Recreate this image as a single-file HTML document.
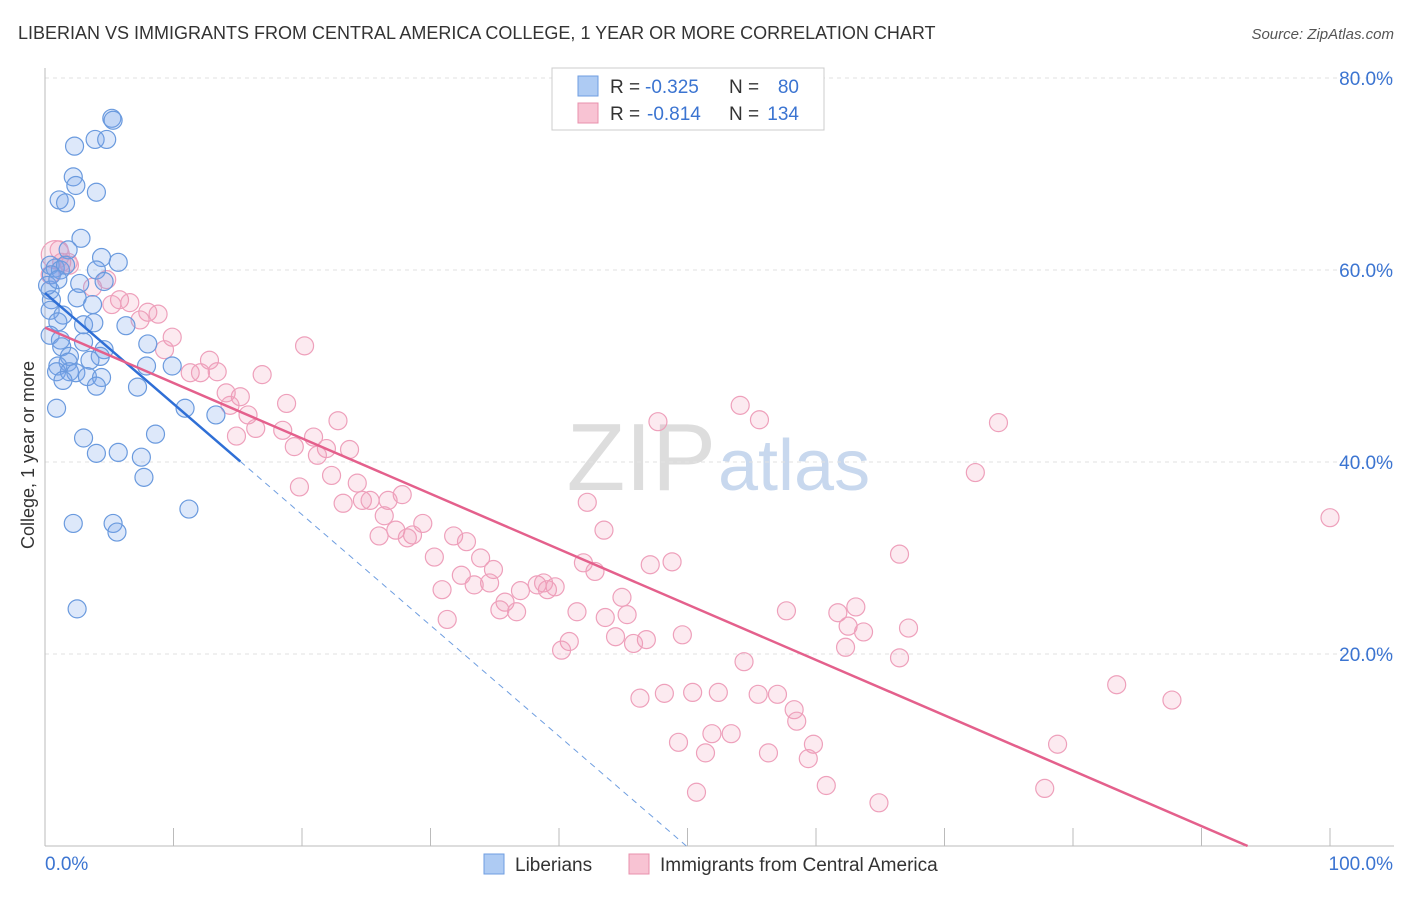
<!DOCTYPE html>
<html><head><meta charset="utf-8"><style>
body{margin:0;background:#fff;font-family:"Liberation Sans",sans-serif;}
svg text{font-family:"Liberation Sans",sans-serif;}
</style></head><body>
<svg id="chart" width="1406" height="892" viewBox="0 0 1406 892">
<text x="18" y="39" font-size="18" fill="#333">LIBERIAN VS IMMIGRANTS FROM CENTRAL AMERICA COLLEGE, 1 YEAR OR MORE CORRELATION CHART</text>
<text x="1394" y="39" font-size="15" fill="#555" text-anchor="end" font-style="italic">Source: ZipAtlas.com</text>
<text x="716" y="490" font-size="96" fill="#ddd" text-anchor="end" font-family="Liberation Serif">ZIP</text>
<text x="718" y="490" font-size="72" fill="#c8d8ee">atlas</text>
<g id="grid"></g><g id="axes"></g><g id="pts"></g><g id="lines"></g>
<text transform="translate(34,455) rotate(-90)" font-size="18" fill="#333" text-anchor="middle">College, 1 year or more</text>
<g>
<rect x="552" y="68" width="272" height="62" fill="#fff" stroke="#ccc"/>
<rect x="578" y="76" width="20" height="20" fill="#aecbf3" stroke="#6f9ee0"/>
<rect x="578" y="103" width="20" height="20" fill="#f8c3d3" stroke="#e890ad"/>
<text x="610" y="93" font-size="19" fill="#333">R =</text>
<text x="645" y="93" font-size="19" fill="#3b74d1">-0.325</text>
<text x="729" y="93" font-size="19" fill="#333">N =</text>
<text x="799" y="93" font-size="19" fill="#3b74d1" text-anchor="end">80</text>
<text x="610" y="120" font-size="19" fill="#333">R =</text>
<text x="647" y="120" font-size="19" fill="#3b74d1">-0.814</text>
<text x="729" y="120" font-size="19" fill="#333">N =</text>
<text x="799" y="120" font-size="19" fill="#3b74d1" text-anchor="end">134</text>
</g>
<g>
<rect x="484" y="854" width="20" height="20" fill="#aecbf3" stroke="#6f9ee0"/>
<text x="515" y="871" font-size="19" fill="#333">Liberians</text>
<rect x="629" y="854" width="20" height="20" fill="#f8c3d3" stroke="#e890ad"/>
<text x="660" y="871" font-size="19" fill="#333">Immigrants from Central America</text>
</g>
</svg>
<script>
const yTicks=[20,40,60,80];
const yTickLabels=["20.0%","40.0%","60.0%","80.0%"];
const xEndLabels=["0.0%","100.0%"];
const blueX=[5.2,5.3,3.9,4.8,2.3,2.2,2.4,4.0,1.1,1.6,2.8,1.8,5.7,4.4,0.4,0.8,1.2,1.6,4.0,4.6,2.7,0.4,0.5,2.5,3.7,0.4,1.4,1.0,3.0,3.8,6.3,0.4,1.2,1.3,3.0,4.6,8.0,1.9,4.3,1.8,1.0,3.5,0.9,1.9,2.4,3.3,4.4,1.4,4.0,7.2,7.9,9.9,0.9,10.9,13.3,8.6,3.0,4.0,5.7,7.5,7.7,2.2,5.3,5.6,11.2,2.5,0.5,0.2,1.0];
const blueY=[75.8,75.6,73.6,73.6,72.9,69.7,68.8,68.1,67.3,67.0,63.3,62.1,60.8,61.3,60.5,60.2,60.0,60.5,60.0,58.8,58.6,57.9,56.9,57.1,56.4,55.8,55.3,54.6,54.3,54.5,54.2,53.2,52.7,52.0,52.5,51.7,52.3,51.0,51.0,50.4,50.0,50.6,49.4,49.4,49.3,48.9,48.8,48.5,47.9,47.8,50.0,50.0,45.6,45.6,44.9,42.9,42.5,40.9,41.0,40.5,38.4,33.6,33.6,32.7,35.1,24.7,59.5,58.4,59.0];
const pinkX=[0.8,1.3,1.9,0.4,4.8,3.7,5.8,6.6,5.2,8.0,8.8,7.4,9.9,9.3,20.2,12.8,11.3,12.1,13.4,16.9,14.1,15.2,14.4,18.8,15.8,22.8,16.4,18.5,14.9,20.9,19.4,21.9,23.7,21.2,47.7,54.1,55.6,74.2,72.4,22.3,19.8,24.3,27.8,24.7,23.2,25.3,26.7,42.2,26.4,27.3,29.4,28.6,26.0,28.2,31.8,32.8,43.5,30.3,33.9,41.9,42.8,47.1,48.8,66.5,100,32.4,34.9,34.6,30.9,33.4,37.0,38.3,39.1,39.7,38.8,44.9,35.8,35.4,36.7,41.4,43.6,45.3,57.7,61.7,63.1,62.5,63.7,67.2,31.3,44.4,46.8,45.8,49.6,40.8,40.2,62.3,66.5,54.4,83.4,87.7,46.3,48.2,50.4,52.4,55.5,57.0,58.3,58.5,51.9,53.4,49.3,51.4,56.3,59.8,59.4,78.8,60.8,50.7,64.9,77.8,1.1,1.8];
const pinkY=[61.6,60.8,60.5,59.5,59.0,58.2,56.9,56.6,56.4,55.6,55.4,54.8,53.0,51.7,52.1,50.6,49.3,49.3,49.4,49.1,47.2,46.8,45.9,46.1,44.9,44.3,43.5,43.3,42.7,42.6,41.6,41.4,41.3,40.7,44.2,45.9,44.4,44.1,38.9,38.6,37.4,37.8,36.6,36.0,35.7,36.0,36.0,35.8,34.4,32.9,33.6,32.4,32.3,32.1,32.3,31.7,32.9,30.1,30.0,29.5,28.6,29.3,29.6,30.4,34.2,28.2,28.8,27.4,26.7,27.2,26.6,27.2,26.7,27.0,27.4,25.9,25.4,24.6,24.4,24.4,23.8,24.1,24.5,24.3,24.9,22.9,22.3,22.7,23.6,21.8,21.5,21.1,22.0,21.3,20.4,20.7,19.6,19.2,16.8,15.2,15.4,15.9,16.0,16.0,15.8,15.8,14.2,13.0,11.7,11.7,10.8,9.7,9.7,10.6,9.1,10.6,6.3,5.6,4.5,6.0,62.1,60.8];
const blueTrend=[57.6,-1.154];
const pinkTrend=[54.0,-0.577];
const X=v=>45+v*12.85, Y=v=>846-v*9.6;
const NS="http://www.w3.org/2000/svg";
function mk(tag,attrs,parent){const e=document.createElementNS(NS,tag);for(const k in attrs)e.setAttribute(k,attrs[k]);document.getElementById(parent).appendChild(e);return e;}
yTicks.forEach((t,i)=>{
 const g=mk('line',{x1:45,x2:1394,y1:Y(t),y2:Y(t),stroke:'#e2e2e2','stroke-dasharray':'4,4'},'grid');
 
 
 const l=mk('text',{x:1393,y:Y(t)+7,'font-size':19,fill:'#3b74d1','text-anchor':'end'},'grid');l.textContent=yTickLabels[i];
 
 
});
const ax=mk('line',{x1:45,x2:45,y1:68,y2:846,stroke:'#bbb'},'axes');


const bx=mk('line',{x1:45,x2:1394,y1:846,y2:846,stroke:'#bbb'},'axes');


for(let i=0;i<=10;i++){const t=mk('line',{x1:X(i*10),x2:X(i*10),y1:828,y2:846,stroke:'#bbb'},'axes');
 
 }
[[0,'start'],[100,'end']].forEach((p,i)=>{const t=mk('text',{x:i?1393:45,y:870,'font-size':19,fill:'#3b74d1','text-anchor':p[1]},'axes');t.textContent=xEndLabels[i];
 
 });
pinkX.forEach((x,i)=>{const c=mk('circle',{cx:X(x),cy:Y(pinkY[i]),r:i===0?14:9,fill:'rgba(240,150,180,0.2)',stroke:'#eea0bb','stroke-width':1.2},'pts');
 
 });
blueX.forEach((x,i)=>{const c=mk('circle',{cx:X(x),cy:Y(blueY[i]),r:9,fill:'rgba(120,165,235,0.25)',stroke:'#6a9ade','stroke-width':1.2},'pts');
 
 });
const bEnd=15.2, bZero=-blueTrend[0]/blueTrend[1];
let l1=mk('line',{x1:X(0),y1:Y(blueTrend[0]),x2:X(bEnd),y2:Y(blueTrend[0]+blueTrend[1]*bEnd),stroke:'#2f6fd6','stroke-width':2.5},'lines');


let l2=mk('line',{x1:X(bEnd),y1:Y(blueTrend[0]+blueTrend[1]*bEnd),x2:X(bZero),y2:Y(0),stroke:'#6f9ee0','stroke-width':1,'stroke-dasharray':'6,5'},'lines');


const pZero=-pinkTrend[0]/pinkTrend[1];
let l3=mk('line',{x1:X(0),y1:Y(pinkTrend[0]),x2:X(pZero),y2:Y(0),stroke:'#e4608c','stroke-width':2.5},'lines');


</script>
</body></html>
